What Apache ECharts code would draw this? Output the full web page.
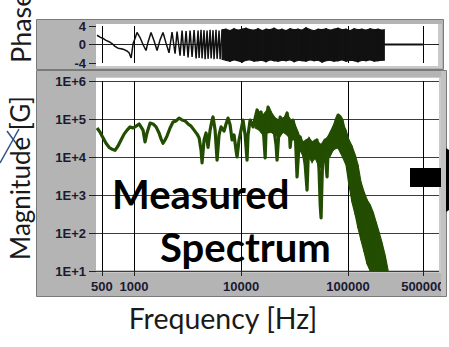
<!DOCTYPE html>
<html><head><meta charset="utf-8">
<script src="https://cdn.jsdelivr.net/npm/echarts@6/dist/echarts.min.js"></script>
<style>html,body{margin:0;padding:0;background:#fff}#c{width:449px;height:347px}</style>
</head><body><div id="c"></div>
<script>
// ---- data ----
const gridFreqs = [500, 1000, 10000, 100000, 500000];
const xTickLabels = ['500', '1000', '10000', '100000', '500000'];

// Magnitude [G] vs frequency [Hz]
const magFreq = [451,481,513,547,584,623,664,708,756,807,
  861,918,980,1045,1115,1162,1213,1267,1322,1411,
  1505,1606,1713,1788,1866,1949,2034,2170,2314,2469,
  2634,2810,2998,3198,3412,3640,3883,4053,4230,4322,
  4511,4709,4915,5137,5357,5472,5721,5970,6230,6502,
  6936,7241,7557,7903,8243,8603,8979,9176,9578,10000,
  10438,10917,11376,11623,12158,12675,12950,13541,14125,14741,
  15384,16055,16796,17140,17886,18706,19496,20346,21233,21697,
  22642,23202,24160,24686,25841,26938,28115,28780,29984,30637,
  32053,33365,34830,35698,37154,37962,39758,41399,42300,44279,
  46128,47128,49315,51293,53580,54923,55976,57147,58380,61169,
  63680,65013,68125,70795,73961,77268,80723,84501,87902,91833,
  94111];
const magValue = [5.8e4,4.5e4,3.2e4,2.3e4,1.8e4,1.6e4,1.5e4,1.95e4,2.8e4,4.0e4,
  5.1e4,6.2e4,5.8e4,6.5e4,7.4e4,6.2e4,5.1e4,2.5e4,4.3e4,7.8e4,
  7.4e4,6.2e4,4.3e4,3.0e4,2.3e4,2.8e4,3.6e4,5.8e4,8.3e4,8.9e4,
  1.06e5,9.4e4,8.9e4,7.4e4,6.5e4,5.1e4,4.0e4,3.2e4,1.5e4,7.0e3,
  2.8e4,4.3e4,1.8e4,5.1e4,9.4e4,1.13e5,5.1e4,8.3e3,3.8e4,6.2e4,
  4.8e4,7.4e4,1.06e5,7.0e4,2.8e4,3.8e4,1.5e4,1.0e4,2.8e4,5.1e4,
  9.4e4,3.8e4,8.3e3,3.8e4,9.4e4,7.4e4,6.2e4,1.06e5,1.73e5,1.27e5,
  1.53e5,7.0e4,9.4e3,5.1e4,2.07e5,1.53e5,1.13e5,5.1e4,2.1e4,8.3e3,
  5.1e4,1.13e5,8.9e4,7.8e4,1.06e5,1.44e5,7.0e4,1.8e4,5.8e4,9.4e4,
  5.1e4,3.0e3,2.1e4,3.4e4,2.1e4,1.5e4,6.2e3,1.35e3,8.3e3,2.3e4,
  1.5e4,1.27e4,2.1e4,2.8e4,4.5e3,545,250,2.5e3,1.8e4,1.13e4,
  3.0e3,1.5e4,2.8e4,3.8e4,5.8e4,9.4e4,1.27e5,1.13e5,9.4e4,5.1e4,
  4.3e4];

// dense part of the magnitude (many overlapping traces): upper / lower envelope
const magBandFreq = [13541,14741,16055,17500,19050,20833,22642,24686,26938,29300,32053,34190,
  35698,37962,40460,43270,46128,49315,52480,55976,59700,63680,
  68125,72440,77268,80723,84501,89743,95719,102100,108900,116733,
  123900,132100,141254,150660,161259,171400,182800,195000,208000,222769,236600];
const magBandUpper = [1.06e5,1.44e5,1.27e5,1.73e5,1.53e5,1.06e5,9.4e4,1.06e5,1.27e5,9.4e4,7.0e4,4.5e4,
  3.2e4,2.5e4,2.8e4,3.2e4,2.5e4,2.8e4,2.5e4,2.1e4,2.8e4,3.2e4,
  4.5e4,6.5e4,9.4e4,1.2e5,1.06e5,7.4e4,5.1e4,2.8e4,1.95e4,1.13e4,
  6.2e3,2.2e3,1.2e3,740,545,357,195,106,55,25,10.5];
const magBandLower = [5.8e4,5.1e4,3.8e4,4.3e4,4.5e4,3.8e4,3.2e4,4.5e4,3.8e4,2.8e4,2.8e4,1.7e4,
  1.5e4,1.06e4,8.3e3,9.4e3,7.4e3,9.4e3,6.2e3,5.1e3,7.4e3,8.3e3,
  1.06e4,1.5e4,1.7e4,1.7e4,1.35e4,9.4e3,6.2e3,1.8e3,650,300,
  135,65,32,15.3,10,10,10,10,10,10,10];

// Phase vs frequency
const phaseFreq = [451,481,513,547,584,623,664,708,756,807,
  861,899,939,980,1021,1066,1138,1213,1294,1351,
  1441,1538,1641,1750,1866,1990,2123,2265,2417,2523,
  2692,2810,2934,3063,3198,3339,3486,3640,3800,3967,
  4053,4230,4322,4511,4612,4815,4915,5137,5249,5472,
  5591,5838,5970,6230,6371,6650];
const phaseValue = [2.0,1.6,1.3,0.9,0.6,0.2,-0.4,-0.8,-0.9,-1.1,
  -1.4,-1.8,-2.9,0.2,1.3,2.6,1.5,0.0,-1.3,0.5,
  2.6,0.8,-1.3,1.0,2.6,0.3,-1.8,2.7,-2.0,2.8,
  -2.4,3.0,-2.5,2.9,-2.8,3.0,-2.7,3.1,-3.0,3.0,
  -2.9,3.2,-3.0,3.1,-3.2,3.0,-3.1,3.2,-3.0,3.1,
  -3.2,3.2,-3.1,3.0,-3.2,3.2];
// dense phase region: upper / lower envelope
const phaseBandFreq = [6650,7241,7903,8603,9375,10217,11134,12158,13253,14430,
  15740,17140,18706,20346,22170,24160,26340,28780,31370,34190,
  37154,40460,44279,48260,52480,57147,62450,68125,73960,80723,
  87902,95719,104813,114230,123900,134900,146940,161259,175700,191400,
  208000,218000];
const phaseBandUpper = [3.2,3.3,3.0,3.4,3.1,3.3,3.5,3.2,3.1,3.4,
  3.0,3.3,3.2,3.5,3.1,3.3,3.0,3.4,3.2,3.3,
  3.1,3.6,3.2,3.0,3.3,3.2,3.4,3.1,3.3,3.5,
  3.2,3.3,3.0,3.4,3.2,3.3,3.1,3.4,3.2,3.3,
  3.1,3.2];
const phaseBandLower = [-3.2,-3.4,-3.6,-3.3,-3.5,-3.8,-3.4,-3.3,-3.6,-3.5,
  -3.4,-3.7,-3.3,-3.5,-3.6,-3.4,-3.5,-3.3,-3.7,-3.4,
  -3.5,-3.6,-3.3,-3.5,-3.4,-3.8,-3.5,-3.4,-3.6,-3.5,
  -3.3,-3.6,-3.4,-3.5,-3.7,-3.4,-3.5,-3.3,-3.6,-3.5,
  -3.4,-3.4];
const phaseTailFreq = [218000, 500000];
const phaseTailValue = [0, 0];

// ---- chart ----
const green = '#234d00';
const ink = '#111';
const xMin = 441, xMax = 708000;
const tickFont = {fontFamily: 'Liberation Sans', fontWeight: 'bold', fontSize: 13, color: '#1a1a33'};
const pairs = (xs, ys) => xs.map((x, i) => [x, ys[i]]);

// filled band between a lower and an upper envelope, placed through the axes
function bandSeries(idx, freq, lo, hi, color) {
  return {
    type: 'custom', xAxisIndex: idx, yAxisIndex: idx, z: 3, clip: true, silent: true,
    data: freq.map((f, i) => [f, lo[i], hi[i]]),
    encode: {x: 0, y: [1, 2]},
    renderItem: function (params, api) {
      const i = params.dataIndex;
      if (i >= freq.length - 1) return null;
      const pts = [
        api.coord([freq[i], lo[i]]), api.coord([freq[i], hi[i]]),
        api.coord([freq[i + 1], hi[i + 1]]), api.coord([freq[i + 1], lo[i + 1]])
      ];
      return {type: 'polygon', shape: {points: pts}, style: {fill: color, stroke: color, lineWidth: 1.2}};
    }
  };
}

const chart = echarts.init(document.getElementById('c'), null, {renderer: 'svg', width: 449, height: 347});

const hiddenX = (g) => ({type: 'log', gridIndex: g, min: xMin, max: xMax,
  axisLine: {show: false}, axisTick: {show: false}, axisLabel: {show: false}, splitLine: {show: false}});
const mainX = hiddenX(1);
mainX.axisTick = {show: true, length: 5, inside: false, customValues: gridFreqs, lineStyle: {color: '#222'}};

const option = {
  animation: false,
  backgroundColor: '#fff',
  grid: [
    {left: 96, top: 26, width: 343, height: 37},
    {left: 96, top: 81, width: 343, height: 190}
  ],
  xAxis: [hiddenX(0), mainX],
  yAxis: [
    {type: 'value', gridIndex: 0, min: -4, max: 4, interval: 4,
      axisLine: {show: false}, axisTick: {show: true, length: 7, lineStyle: {color: '#222'}},
      axisLabel: Object.assign({margin: 10}, tickFont), splitLine: {show: false}},
    {type: 'log', logBase: 10, gridIndex: 1, min: 10, max: 1e6,
      axisLine: {show: false}, axisTick: {show: true, length: 7, lineStyle: {color: '#222'}},
      axisLabel: Object.assign({margin: 10, formatter: v => '1E+' + Math.round(Math.log10(v))}, tickFont),
      splitLine: {show: true, lineStyle: {color: '#3c3c3c', width: 1}}}
  ],
  series: [
    // phase grid lines
    {type: 'line', xAxisIndex: 0, yAxisIndex: 0, data: [], silent: true,
      markLine: {z: 1, silent: true, symbol: ['none', 'none'], animation: false,
        lineStyle: {color: '#000', width: 1, type: 'solid'}, label: {show: false},
        data: gridFreqs.map(f => ({xAxis: f})).concat([{yAxis: 0, lineStyle: {color: '#222'}}])}},
    // main grid lines + x labels
    {type: 'line', xAxisIndex: 1, yAxisIndex: 1, data: [], silent: true,
      markLine: {z: 1, silent: true, symbol: ['none', 'none'], animation: false,
        lineStyle: {color: '#000', width: 1, type: 'solid'},
        label: Object.assign({show: true, position: 'start', distance: 9, formatter: '{b}'}, tickFont),
        data: gridFreqs.map((f, i) => ({xAxis: f, name: xTickLabels[i]}))}},
    // phase
    {type: 'line', xAxisIndex: 0, yAxisIndex: 0, z: 3, symbol: 'none',
      data: pairs(phaseFreq, phaseValue), lineStyle: {color: ink, width: 1.5}},
    bandSeries(0, phaseBandFreq, phaseBandLower, phaseBandUpper, ink),
    {type: 'line', xAxisIndex: 0, yAxisIndex: 0, z: 3, symbol: 'none',
      data: pairs(phaseTailFreq, phaseTailValue), lineStyle: {color: ink, width: 2}},
    // magnitude
    bandSeries(1, magBandFreq, magBandLower, magBandUpper, green),
    {type: 'line', xAxisIndex: 1, yAxisIndex: 1, z: 4, symbol: 'none',
      data: pairs(magFreq, magValue), lineStyle: {color: green, width: 3.2, join: 'round'}}
  ],
  graphic: [
    // panels (behind)
    {type: 'rect', z: -10, shape: {x: 36.5, y: 19.5, width: 407, height: 50}, style: {fill: '#b4b4b4', stroke: '#7a7a7a', lineWidth: 1}},
    {type: 'rect', z: -9, shape: {x: 96, y: 24, width: 346, height: 44}, style: {fill: '#cacaca'}},
    {type: 'rect', z: -8, shape: {x: 96, y: 24, width: 342, height: 42}, style: {fill: '#ffffff'}},
    {type: 'rect', z: -10, shape: {x: 36.5, y: 70.5, width: 410, height: 226}, style: {fill: '#b4b4b4', stroke: '#7a7a7a', lineWidth: 1}},
    {type: 'rect', z: -9, shape: {x: 96, y: 77, width: 347, height: 196}, style: {fill: '#cacaca'}},
    {type: 'rect', z: -8, shape: {x: 96, y: 78, width: 343, height: 192}, style: {fill: '#ffffff'}},
    // overlays
    {type: 'rect', z: 100, shape: {x: 410, y: 168, width: 34, height: 19}, style: {fill: '#000'}},
    {type: 'rect', z: 110, shape: {x: 441, y: 71, width: 5, height: 225}, style: {fill: '#c2c2c2'}},
    {type: 'polygon', z: 120, shape: {points: [[446, 148], [449, 150], [449, 210], [446, 212]]}, style: {fill: '#000'}},
    {type: 'polyline', z: 120, shape: {points: [[0, 163], [19, 129]]}, style: {stroke: '#2f4f86', lineWidth: 1.5, fill: null}},
    {type: 'polyline', z: 120, shape: {points: [[7, 131], [21, 150]]}, style: {stroke: '#2f4f86', lineWidth: 1.5, fill: null}},
    {type: 'text', z: 130, x: 20, y: 63, rotation: Math.PI / 2,
      style: {text: 'Phase', font: '27px Lato', fill: '#1a1a1a', textAlign: 'left', verticalAlign: 'middle'}},
    {type: 'text', z: 130, x: 20, y: 178, rotation: Math.PI / 2,
      style: {text: 'Magnitude [G]', font: '26px Lato', fill: '#1a1a1a', textAlign: 'center', verticalAlign: 'middle'}},
    {type: 'text', z: 130, x: 223, y: 318,
      style: {text: 'Frequency [Hz]', font: '28.5px Lato', fill: '#1a1a1a', textAlign: 'center', verticalAlign: 'middle'}},
    {type: 'text', z: 130, x: 112, y: 194,
      style: {text: 'Measured', font: 'bold 40px Lato', fill: '#000', textAlign: 'left', verticalAlign: 'middle'}},
    {type: 'text', z: 130, x: 160, y: 247,
      style: {text: 'Spectrum', font: 'bold 40px Lato', fill: '#000', textAlign: 'left', verticalAlign: 'middle'}}
  ]
};
chart.setOption(option);
</script>
</body></html>
